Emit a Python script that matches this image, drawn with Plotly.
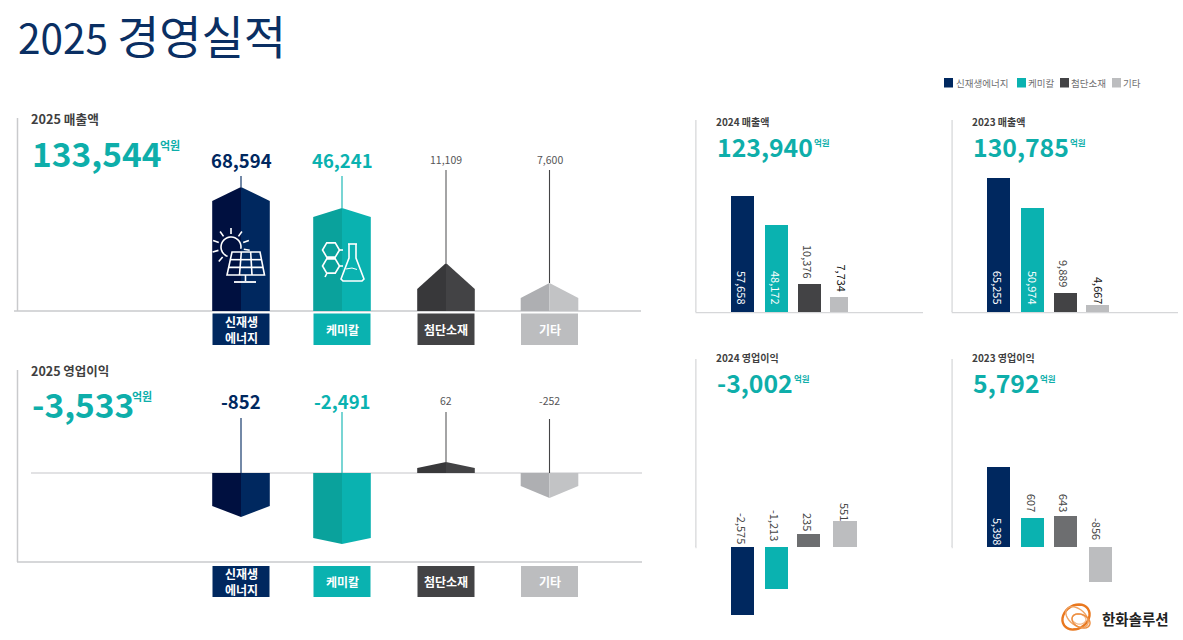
import numpy as np
import plotly.graph_objects as go

# ---------- data ----------
categories = ["신재생에너지", "케미칼", "첨단소재", "기타"]
category_box_labels = ["신재생<br>에너지", "케미칼", "첨단소재", "기타"]

sales_2025 = [68594, 46241, 11109, 7600]
profit_2025 = [-852, -2491, 62, -252]
sales_2024 = [57658, 48172, 10376, 7734]
profit_2024 = [-2575, -1213, 235, 551]
sales_2023 = [65255, 50974, 9889, 4667]
profit_2023 = [5398, 607, 643, -856]

total_sales_2025 = 133544
total_profit_2025 = -3533
total_sales_2024 = 123940
total_profit_2024 = -3002
total_sales_2023 = 130785
total_profit_2023 = 5792

# The infographic is not drawn to scale, so the height of each drawn bar is read
# separately from its printed value (1 unit = 1 pixel of the reference).
sales_2025_drawn = [124, 103, 48, 28]
sales_2025_shoulder = [110, 94, 22, 13]
profit_2025_drawn = [-44, -71, 11, -25]
profit_2025_shoulder = [-33, -65, 5, -13]
sales_2024_drawn = [116, 87, 28, 15]
profit_2024_drawn = [-68, -42, 13, 26]
sales_2023_drawn = [134, 104, 19, 7]
profit_2023_drawn = [80, 29, 31, -35]

# ---------- styling ----------
W, H = 1183, 640
FONT = "Noto Sans CJK KR"
NAVY, TEAL, DARK, LIGHT = "#00285f", "#0ab2b0", "#434345", "#bcbdbf"
NAVY_D, TEAL_D, DARK_D, LIGHT_D = "#001040", "#0aa29c", "#38383a", "#aeafb2"
LIGHT_R = "#c2c3c5"
MID = "#6d6e70"
AXIS = "#d6d7d9"
TITLE_NAVY = "#0a2f63"


def px(x):
    return x / W


def py(y):
    return 1 - y / H


fig = go.Figure()
axis_count = [0]


def make_axes(left, right, top, bottom, zero):
    axis_count[0] += 1
    n = axis_count[0]
    sx = "" if n == 1 else str(n)
    common = dict(visible=False, showgrid=False, zeroline=False, fixedrange=True)
    fig.layout[f"xaxis{sx}"] = dict(domain=[px(left), px(right)], range=[left, right],
                                    anchor=f"y{sx}", **common)
    fig.layout[f"yaxis{sx}"] = dict(domain=[py(bottom), py(top)],
                                    range=[zero - bottom, zero - top],
                                    anchor=f"x{sx}", **common)
    return f"x{sx}", f"y{sx}"


def hline(x0, x1, y, color=AXIS, width=2.5, layer="below"):
    fig.add_shape(type="line", xref="paper", yref="paper", x0=px(x0), x1=px(x1),
                  y0=py(y), y1=py(y), line=dict(color=color, width=width), layer=layer)


def vline(x, y0, y1, color=AXIS, width=2.5, layer="below"):
    fig.add_shape(type="line", xref="paper", yref="paper", x0=px(x), x1=px(x),
                  y0=py(y0), y1=py(y1), line=dict(color=color, width=width), layer=layer)


def rect(x0, x1, y0, y1, color):
    fig.add_shape(type="rect", xref="paper", yref="paper", x0=px(x0), x1=px(x1),
                  y0=py(y0), y1=py(y1), fillcolor=color, line=dict(width=0))


def text(x, y, s, size, color, bold=False, xanchor="left", angle=0):
    f = dict(family=FONT, size=size, color=color)
    if bold:
        f["weight"] = 700
    fig.add_annotation(xref="paper", yref="paper", x=px(x), y=py(y), text=s, showarrow=False,
                       xanchor=xanchor, yanchor="middle", font=f, textangle=angle,
                       borderpad=0, borderwidth=0, align="center")


def path(points, color, width=1.6, close=False):
    d = "M " + " L ".join(f"{px(a):.5f},{py(b):.5f}" for a, b in points)
    if close:
        d += " Z"
    fig.add_shape(type="path", xref="paper", yref="paper", path=d,
                  line=dict(color=color, width=width), layer="above")


# ---------- large 2025 panels ----------
big_centers = [241, 342, 446, 549.5]
big_half = 28.8
big_right = [NAVY, TEAL, DARK, LIGHT_R]
big_left = [NAVY_D, TEAL_D, DARK_D, LIGHT_D]
leader_colors = [NAVY, TEAL, "#59595b", "#444446"]
box_colors = [NAVY, TEAL, DARK, LIGHT]


def big_panel(apexes, shoulders, leader_tops, top, bottom, zero):
    xa, ya = make_axes(0, W, top, bottom, zero)
    for i, c in enumerate(big_centers):
        a, s = apexes[i], shoulders[i]
        for xs, col in ((c - big_half, big_left[i]), (c + big_half, big_right[i])):
            fig.add_trace(go.Scatter(x=[c, xs, xs, c, c], y=[0, 0, s, a, 0], mode="lines",
                                     fill="toself", fillcolor=col, line=dict(width=0),
                                     xaxis=xa, yaxis=ya, hoverinfo="skip", showlegend=False))
        start = max(a, 0)
        fig.add_trace(go.Scatter(x=[c, c], y=[start, zero - leader_tops[i]], mode="lines",
                                 line=dict(color=leader_colors[i], width=1.1),
                                 xaxis=xa, yaxis=ya, hoverinfo="skip", showlegend=False))


# sales
vline(17.5, 118, 311, "#c9cacc", 1.5)
hline(14, 641, 311, "#c9cacc", 1.5)
big_panel(sales_2025_drawn, sales_2025_shoulder, [176, 176, 170, 170], 118, 345, 311)
# profit
vline(17.5, 370, 562, "#c9cacc", 1.5)
hline(17, 642, 562, "#c9cacc", 1.5)
hline(31, 642, 473, "#d8d9db", 1.5)
big_panel(profit_2025_drawn, profit_2025_shoulder, [418, 412, 412, 419], 370, 562, 473)

for y0, y1, yc, in ((313.5, 345, 329), (566, 597, 581)):
    for i, c in enumerate(big_centers):
        rect(c - 28.5, c + 28.5, y0, y1, box_colors[i])
        fig.add_annotation(xref="paper", yref="paper", x=px(c), y=py(yc), text=category_box_labels[i],
                           showarrow=False, xanchor="center", yanchor="middle", align="center",
                           font=dict(family=FONT, size=12, color="white", weight=700))

big_colors = [NAVY, TEAL, "#555557", "#555557"]
for values, ys in ((sales_2025, (159.5, 159)), (profit_2025, (400.5, 400.5))):
    for i, c in enumerate(big_centers):
        if i < 2:
            text(c, ys[0], f"{values[i]:,}", 18.5, big_colors[i], bold=True, xanchor="center")
        else:
            text(c, ys[1], f"{values[i]:,}", 10.5, big_colors[i], xanchor="center")

# ---------- small panels ----------
small_panels = [
    dict(left=696.5, right=923, top=120, bottom=312, zero=312, drawn=sales_2024_drawn,
         values=sales_2024, cx=[742, 776, 809, 838.5], widths=[23, 23, 23, 18],
         colors=[NAVY, TEAL, DARK, LIGHT], ly=[288, 288, 262, 278],
         lc=["white", "white", "#444", "#111"], lx=[742, 776, 808, 841.5]),
    dict(left=952.7, right=1178, top=120, bottom=312, zero=312, drawn=sales_2023_drawn,
         values=sales_2023, cx=[998, 1032, 1065, 1097], widths=[23, 23, 23, 23],
         colors=[NAVY, TEAL, DARK, LIGHT], ly=[288, 288, 273, 290],
         lc=["white", "white", "#444", "#111"], lx=[998, 1033, 1064, 1099]),
    dict(left=696.5, right=923, top=359, bottom=625, zero=547, drawn=profit_2024_drawn,
         values=profit_2024, cx=[742, 776, 808, 844.5], widths=[23, 23, 23, 24],
         colors=[NAVY, TEAL, MID, LIGHT], ly=[528, 525, 522, 512],
         lc=["#444", "#444", "#444", "#444"], lx=[742, 775, 808, 845]),
    dict(left=952.7, right=1178, top=359, bottom=625, zero=547, drawn=profit_2023_drawn,
         values=profit_2023, cx=[998, 1032, 1065, 1100], widths=[23, 23, 23, 23],
         colors=[NAVY, TEAL, MID, LIGHT], ly=[531, 503, 503, 529],
         lc=["white", "#444", "#444", "#444"], lx=[998, 1032, 1064, 1097]),
]

for p in small_panels:
    xa, ya = make_axes(p["left"], p["right"], p["top"], p["bottom"], p["zero"])
    vline(p["left"], p["top"], p["zero"])
    hline(p["left"] - 1, p["right"], p["zero"])
    fig.add_trace(go.Bar(x=p["cx"], y=p["drawn"], width=p["widths"],
                         marker=dict(color=p["colors"], line=dict(width=0)),
                         customdata=categories, xaxis=xa, yaxis=ya, hoverinfo="skip",
                         showlegend=False))
    for i in range(4):
        text(p["lx"][i], p["ly"][i], f"{p['values'][i]:,}", 11, p["lc"][i], xanchor="center", angle=90)

# ---------- headline numbers ----------
headers = [
    (31, 119, "2025 매출액", 12.7, 32, 153, total_sales_2025, 33.5, 160, 145, 11),
    (31, 370, "2025 영업이익", 12.5, 32, 403, total_profit_2025, 33.5, 132, 396, 11),
    (716, 121, "2024 매출액", 10, 717, 146, total_sales_2024, 24.8, 814, 142, 8.5),
    (972, 121, "2023 매출액", 10, 973, 146, total_sales_2023, 24.8, 1070, 142, 8.5),
    (716, 357, "2024 영업이익", 10, 717, 382, total_profit_2024, 24.8, 794, 378, 8.5),
    (972, 357, "2023 영업이익", 10, 973, 382, total_profit_2023, 24.8, 1040, 378, 8.5),
]
for hx, hy, label, hs, vx, vy, val, vs, ux, uy, us in headers:
    text(hx, hy, label, hs, "#3f3f41", bold=True)
    text(vx, vy, f"{val:,}", vs, "#0eaeaa", bold=True)
    text(ux, uy, "억원", us, "#0eaeaa", bold=True)

# ---------- title ----------
fig.add_annotation(xref="paper", yref="paper", x=px(16), y=py(34),
                   text="<span style='font-size:40.5px'>2025</span>"
                        "<span style='font-size:40px'> </span>"
                        "<span style='font-size:46px'>경영실적</span>",
                   showarrow=False, xanchor="left", yanchor="middle",
                   font=dict(family=FONT, size=46, color=TITLE_NAVY, weight=400))

# ---------- legend ----------
legend_x = [944, 1017, 1060, 1112]
legend_text_x = [956, 1028, 1071, 1123]
for i, name in enumerate(categories):
    rect(legend_x[i], legend_x[i] + 9, 78, 87.5, box_colors[i])
    text(legend_text_x[i], 82.5, name, 9.5, "#707072")

# ---------- icons (decoration) ----------
W_ICON = "white"
# solar panel
path([(232, 252), (260, 252), (264.5, 275), (227, 275)], W_ICON, close=True)
for t in (1 / 3, 2 / 3):
    path([(232 + 28 * t, 252), (227 + 37.5 * t, 275)], W_ICON)
    path([(232 - 5 * t, 252 + 23 * t), (260 + 4.5 * t, 252 + 23 * t)], W_ICON)
path([(245.5, 275), (245.5, 281)], W_ICON)
path([(234, 282), (256, 282)], W_ICON, width=1.8)
ang = np.deg2rad(np.linspace(-10, 250, 28))
path([(231 + 10 * np.cos(a), 247 - 10 * np.sin(a)) for a in ang], W_ICON)
for deg in (-10, 20, 55, 90, 125, 160, 195, 230):
    a = np.deg2rad(deg)
    path([(231 + 13 * np.cos(a), 247 - 13 * np.sin(a)), (231 + 19 * np.cos(a), 247 - 19 * np.sin(a))], W_ICON)

# chemistry
for cy in (250, 266):
    hex_pts = [(331 + 8.5 * np.cos(np.deg2rad(a)), cy + 8.2 * np.sin(np.deg2rad(a))) for a in range(0, 360, 60)]
    path(hex_pts, W_ICON, close=True)
path([(339.5, 250), (343, 250)], W_ICON)
path([(339.5, 266), (343, 266)], W_ICON)
path([(327, 273), (325, 277)], W_ICON)
path([(348, 244), (357, 244)], W_ICON, width=1.6)
path([(349, 244), (349, 258), (341, 279), (343, 281), (362, 281), (364, 279), (356, 258), (356, 244)], W_ICON)
path([(346, 269), (352, 268), (357, 269.5)], W_ICON, width=1)

# logo
for (cx, cy, ra, rb, rot, col, wd) in [
    (1076, 617, 14.5, 11.5, -35, "#e9781f", 2.4),
    (1077, 617, 13, 8, 40, "#f0a566", 1.4),
    (1079, 619, 7, 5, 10, "#f3b98a", 1.3),
    (1081, 621, 9.5, 6.5, 25, "#ed8e40", 1.4),
]:
    t = np.deg2rad(np.arange(0, 360, 12))
    r = np.deg2rad(rot)
    path([(cx + ra * np.cos(a) * np.cos(r) - rb * np.sin(a) * np.sin(r),
           cy + ra * np.cos(a) * np.sin(r) + rb * np.sin(a) * np.cos(r)) for a in t], col, width=wd, close=True)
fig.add_annotation(xref="paper", yref="paper", x=px(1135.5), y=py(618), text="한화솔루션",
                   showarrow=False, xanchor="center", yanchor="middle",
                   font=dict(family=FONT, size=14.5, color="#222222", weight=700))

fig.update_layout(width=W, height=H, margin=dict(l=0, r=0, t=0, b=0, pad=0),
                  paper_bgcolor="white", plot_bgcolor="white", showlegend=False,
                  bargap=0, barmode="overlay", font=dict(family=FONT))

fig.write_html("out.html", config=dict(displayModeBar=False, responsive=False),
               post_script="document.body.style.margin='0';document.body.style.overflow='hidden';")
